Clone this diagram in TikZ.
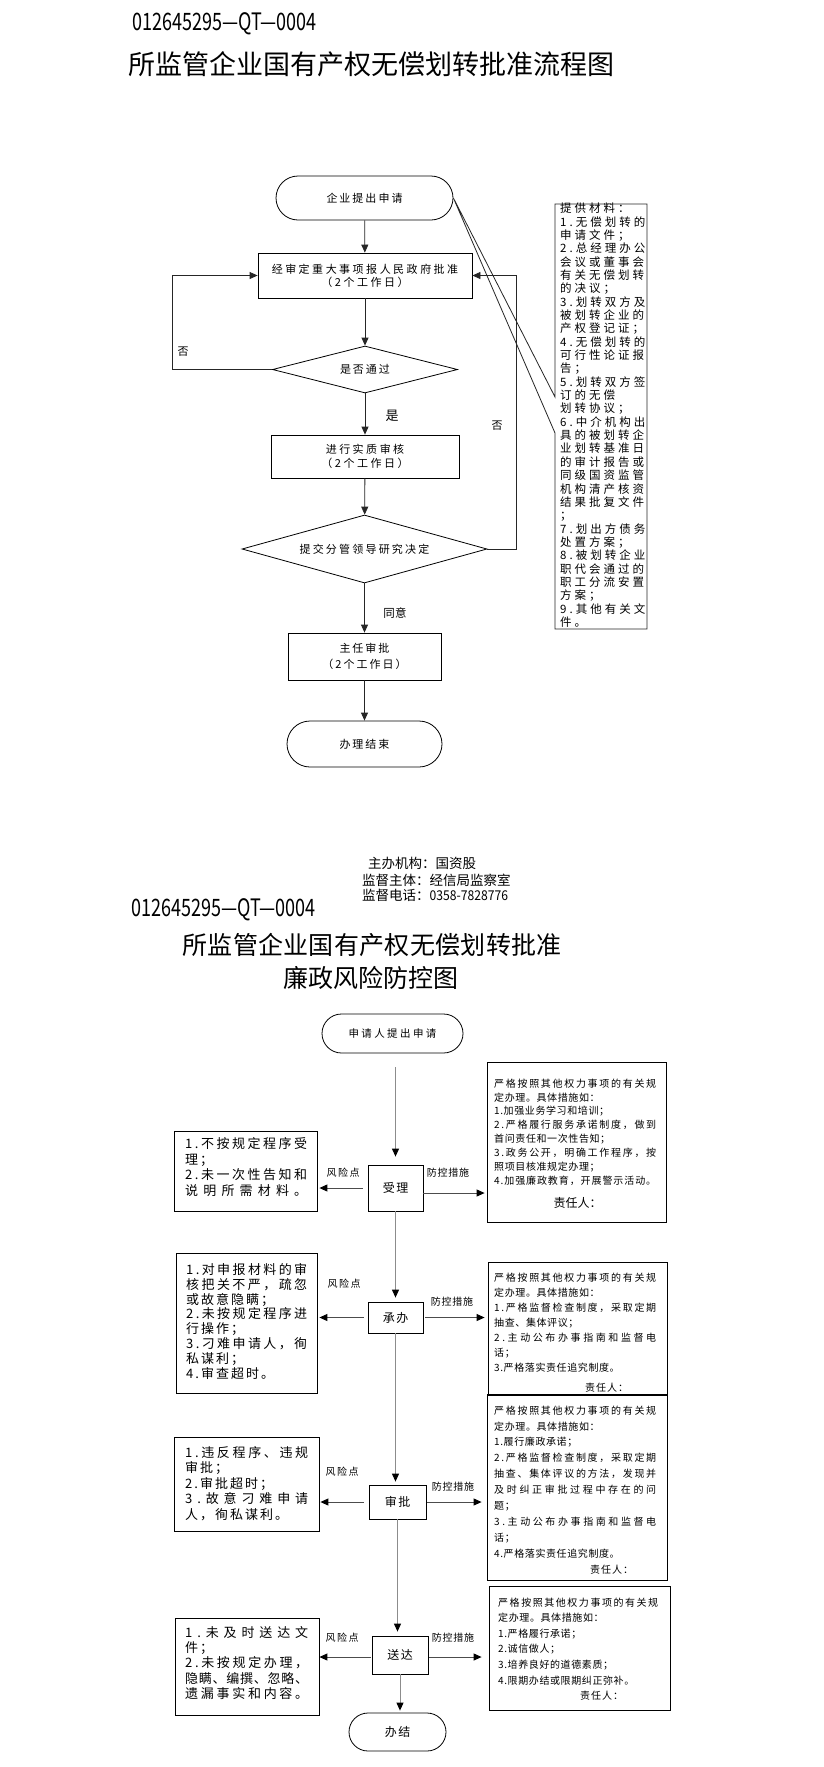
\documentclass[tikz,border=0pt]{standalone}
\usepackage{fontspec}
\setmainfont{Noto Sans CJK SC}
\usetikzlibrary{arrows.meta,shapes.geometric,shapes.misc}
\makeatletter
\def\lsp#1#2{\def\lsp@g{#1}\lsp@a#2\lsp@end}
\def\lsp@a#1{\ifx#1\lsp@end\else#1\expandafter\lsp@b\fi}
\def\lsp@b#1{\ifx#1\lsp@end\else\lsp@g#1\expandafter\lsp@b\fi}
\def\lsp@end{\lsp@end}
\makeatother
\newcommand\kls[2]{\lsp{\kern#1}{#2}}
\newcommand\jl[2]{\hbox to #1{\lsp{\hfil}{#2}}}
\newcommand\fsz[2]{\fontsize{#1}{#2}\selectfont}
\newcommand\mb[1]{\kls{3pt}{#1}}
\newcommand\ms[1]{\kls{0.6pt}{#1}}
\newcommand\lb[1]{\kls{2pt}{#1}}
\begin{document}
\begin{tikzpicture}[x=1pt,y=-1pt,
  bx/.style={draw=black, line width=0.8pt, inner sep=0pt},
  tm/.style={draw=black, rounded rectangle, line width=0.8pt, inner sep=0pt},
  dm/.style={draw=black, diamond, aspect=3.6, inner sep=0pt, line width=0.8pt},
  ar/.style={draw=black!85, line width=0.8pt, -{Triangle[length=8pt,width=7pt]}},
  ln/.style={draw=black!85, line width=0.8pt},
  varr/.style={draw=black!45, line width=1pt, -{Triangle[length=8pt,width=7pt,color=black]}},
  harr/.style={draw=black!70, line width=1pt, -{Triangle[length=8pt,width=7pt,color=black]}},
  tx/.style={inner sep=0pt, anchor=north west, align=left},
  lbl/.style={inner sep=0pt},
]
\fill[white] (0,0) rectangle (823,1767);
\useasboundingbox (0,0) rectangle (823,1767);

% ---------- header 1 ----------
\node[lbl, anchor=west, font=\fsz{24}{24}] (code1) at (132,23.5) {\scalebox{0.75}[1]{012645295—QT—0004}};
\node[lbl, font=\fsz{27}{27}] (title1) at (371.5,64) {所监管企业国有产权无偿划转批准流程图};

% ---------- top flowchart ----------
\node[tm, minimum width=177pt, minimum height=44pt, font=\fsz{11}{11}] (t1) at (364.5,198) {\kls{2pt}{企业提出申请}};
\node[bx, minimum width=214pt, minimum height=45pt, align=center, font=\fsz{11}{13}] (b1) at (365,275.5) {\kls{2.5pt}{经审定重大事项报人民政府批准}\\\kls{2.5pt}{（2个工作日）}};
\node[dm, minimum width=185pt, minimum height=47pt, font=\fsz{11}{11}] (d1) at (365,369.5) {\kls{2pt}{是否通过}};
\node[bx, minimum width=188pt, minimum height=43pt, align=center, font=\fsz{11}{14}] (b2) at (365,456.5) {\kls{2.5pt}{进行实质审核}\\\kls{2.5pt}{（2个工作日）}};
\node[dm, minimum width=245pt, minimum height=68pt, font=\fsz{11}{11}] (d2) at (364.5,549) {\kls{2.2pt}{提交分管领导研究决定}};
\node[bx, minimum width=153pt, minimum height=47pt, align=center, font=\fsz{11}{16}] (b3) at (364.5,656.5) {\kls{2pt}{主任审批}\\\kls{2pt}{（2个工作日）}};
\node[tm, minimum width=155pt, minimum height=46pt, font=\fsz{11}{11}] (t2) at (364.5,744) {\kls{2pt}{办理结束}};

\draw[ar] (t1) -- (b1);
\draw[ar] (b1) -- (d1);
\draw[ar] (d1) -- (b2);
\draw[ar] (b2) -- (d2);
\draw[ar] (d2) -- (b3);
\draw[ar] (b3) -- (t2);
\draw[ar] (d1.west) -| ([xshift=-85pt]b1.west) -- (b1.west);
\draw[ar] (d2.east) -| ([xshift=44pt]b1.east) -- (b1.east);

\node[lbl, font=\fsz{11}{11}] (no1) at (183,352) {否};
\node[lbl, font=\fsz{13}{13}] (yes1) at (392,416) {是};
\node[lbl, font=\fsz{11}{11}] (no2) at (497,426) {否};
\node[lbl, font=\fsz{11.5}{12}] (agree) at (395,613) {\kls{0.5pt}{同意}};

% materials callout
\draw[ln] (t1.east) -- (555,397) -- (555,204) -- (647,204) -- (647,629) -- (555,629) -- (555,433) -- cycle;
\node[tx, font=\fsz{11.5}{13.35}] (mat) at (560,202.8) {%
\mb{提供材料：}\\
\mb{1.无偿划转的}\\
\mb{申请文件；}\\
\mb{2.总经理办公}\\
\mb{会议或董事会}\\
\mb{有关无偿划转}\\
\mb{的决议；}\\
\mb{3.划转双方及}\\
\mb{被划转企业的}\\
\mb{产权登记证；}\\
\mb{4.无偿划转的}\\
\mb{可行性论证报}\\
\mb{告；}\\
\mb{5.划转双方签}\\
\mb{订的无偿}\\
\mb{划转协议；}\\
\mb{6.中介机构出}\\
\mb{具的被划转企}\\
\mb{业划转基准日}\\
\mb{的审计报告或}\\
\mb{同级国资监管}\\
\mb{机构清产核资}\\
\mb{结果批复文件}\\
\mb{；}\\
\mb{7.划出方债务}\\
\mb{处置方案；}\\
\mb{8.被划转企业}\\
\mb{职代会通过的}\\
\mb{职工分流安置}\\
\mb{方案；}\\
\mb{9.其他有关文}\\
\mb{件。}};

% ---------- header 2 ----------
\node[lbl, anchor=west, font=\fsz{13.5}{14}] (org1) at (368,863) {主办机构：国资股};
\node[lbl, anchor=west, font=\fsz{13.5}{14}] (org2) at (362,880) {监督主体：经信局监察室};
\node[lbl, anchor=west, font=\fsz{13.5}{14}] (org3) at (362,895) {监督电话：\scalebox{0.9}[1]{0358-7828776}};
\node[lbl, anchor=west, font=\fsz{24}{24}] (code2) at (131,910) {\scalebox{0.75}[1]{012645295—QT—0004}};
\node[lbl, font=\fsz{25}{25}] (title2a) at (372,944.5) {\kls{0.3pt}{所监管企业国有产权无偿划转批准}};
\node[lbl, font=\fsz{25}{25}] (title2b) at (370.5,978) {廉政风险防控图};

% ---------- bottom flowchart ----------
\node[tm, minimum width=141pt, minimum height=39pt, font=\fsz{10.5}{11}] (s0) at (392.5,1033.5) {\kls{2.4pt}{申请人提出申请}};
\node[bx, minimum width=55pt, minimum height=46pt, font=\fsz{12}{12}] (n1) at (395.5,1188) {\kls{1.5pt}{受理}};
\node[bx, minimum width=55pt, minimum height=31pt, font=\fsz{12}{12}] (n2) at (395.5,1317.5) {\kls{1.5pt}{承办}};
\node[bx, minimum width=57pt, minimum height=34pt, font=\fsz{12}{12}] (n3) at (397.5,1502) {\kls{1.5pt}{审批}};
\node[bx, minimum width=56pt, minimum height=38pt, font=\fsz{12}{12}] (n4) at (400,1655) {\kls{1.5pt}{送达}};
\node[tm, minimum width=97pt, minimum height=38pt, font=\fsz{12}{12}] (s1) at (397.5,1732) {\kls{1.5pt}{办结}};

% risk boxes
\node[bx, minimum width=143pt, minimum height=80pt] (r1) at (245.5,1171) {};
\node[bx, minimum width=141pt, minimum height=140pt] (r2) at (246.5,1323) {};
\node[bx, minimum width=145pt, minimum height=94pt] (r3) at (246.5,1484) {};
\node[bx, minimum width=144pt, minimum height=97pt] (r4) at (247,1666.5) {};
% measure boxes
\node[bx, minimum width=179pt, minimum height=160pt] (m1) at (576.5,1142) {};
\node[bx, minimum width=179pt, minimum height=133pt] (m2) at (577.5,1328.5) {};
\node[bx, minimum width=180pt, minimum height=186pt] (m3) at (577,1487) {};
\node[bx, minimum width=181pt, minimum height=124pt] (m4) at (579.5,1648) {};

% risk texts
\node[tx, font=\fsz{13}{15.7}] (rt1) at (185,1137.2) {%
\jl{122pt}{1.不按规定程序受}\\
\lb{理；}\\
\jl{122pt}{2.未一次性告知和}\\
\jl{122pt}{说明所需材料。}};
\node[tx, font=\fsz{13}{14.8}] (rt2) at (186,1263.2) {%
\jl{121pt}{1.对申报材料的审}\\
\jl{121pt}{核把关不严，疏忽}\\
\lb{或故意隐瞒；}\\
\jl{121pt}{2.未按规定程序进}\\
\lb{行操作；}\\
\jl{121pt}{3.刁难申请人，徇}\\
\lb{私谋利；}\\
\lb{4.审查超时。}};
\node[tx, font=\fsz{13}{15.5}] (rt3) at (185,1446.2) {%
\jl{123pt}{1.违反程序、违规}\\
\lb{审批；}\\
\lb{2.审批超时；}\\
\jl{123pt}{3.故意刁难申请}\\
\lb{人，徇私谋利。}};
\node[tx, font=\fsz{13}{15.25}] (rt4) at (185,1626.2) {%
\jl{123pt}{1.未及时送达文}\\
\lb{件；}\\
\jl{123pt}{2.未按规定办理，}\\
\jl{123pt}{隐瞒、编撰、忽略、}\\
\jl{123pt}{遗漏事实和内容。}};

% measure texts
\node[tx, font=\fsz{10}{13.9}] (mt1) at (494,1078.5) {%
\jl{162pt}{严格按照其他权力事项的有关规}\\
\ms{定办理。具体措施如：}\\
\ms{1.加强业务学习和培训；}\\
\jl{162pt}{2.严格履行服务承诺制度，做到}\\
\ms{首问责任和一次性告知；}\\
\jl{162pt}{3.政务公开，明确工作程序，按}\\
\ms{照项目核准规定办理；}\\
\jl{162pt}{4.加强廉政教育，开展警示活动。}};
\node[tx, font=\fsz{10}{15}] (mt2) at (494,1272.5) {%
\jl{162pt}{严格按照其他权力事项的有关规}\\
\ms{定办理。具体措施如：}\\
\jl{162pt}{1.严格监督检查制度，采取定期}\\
\ms{抽查、集体评议；}\\
\jl{162pt}{2.主动公布办事指南和监督电}\\
\ms{话；}\\
\ms{3.严格落实责任追究制度。}};
\node[tx, font=\fsz{10}{15.9}] (mt3) at (494,1405.5) {%
\jl{162pt}{严格按照其他权力事项的有关规}\\
\ms{定办理。具体措施如：}\\
\ms{1.履行廉政承诺；}\\
\jl{162pt}{2.严格监督检查制度，采取定期}\\
\jl{162pt}{抽查、集体评议的方法，发现并}\\
\jl{162pt}{及时纠正审批过程中存在的问}\\
\ms{题；}\\
\jl{162pt}{3.主动公布办事指南和监督电}\\
\ms{话；}\\
\ms{4.严格落实责任追究制度。}};
\node[tx, font=\fsz{10}{15.6}] (mt4) at (498,1597.5) {%
\jl{160pt}{严格按照其他权力事项的有关规}\\
\ms{定办理。具体措施如：}\\
\ms{1.严格履行承诺；}\\
\ms{2.诚信做人；}\\
\ms{3.培养良好的道德素质；}\\
\ms{4.限期办结或限期纠正弥补。}};
\node[lbl, font=\fsz{12}{12}] (resp1) at (577.5,1203) {责任人：};
\node[lbl, font=\fsz{10}{10}] (resp2) at (606.5,1388) {\kls{1pt}{责任人：}};
\node[lbl, font=\fsz{10}{10}] (resp3) at (611.5,1570) {\kls{1pt}{责任人：}};
\node[lbl, font=\fsz{10}{10}] (resp4) at (601.5,1696) {\kls{1pt}{责任人：}};

% labels
\node[lbl, font=\fsz{10}{10}] (rl1) at (343,1173) {\kls{1.5pt}{风险点}};
\node[lbl, font=\fsz{10}{10}] (rl2) at (344,1284) {\kls{1.5pt}{风险点}};
\node[lbl, font=\fsz{10}{10}] (rl3) at (342,1472) {\kls{1.5pt}{风险点}};
\node[lbl, font=\fsz{10}{10}] (rl4) at (342,1638) {\kls{1.5pt}{风险点}};
\node[lbl, font=\fsz{10}{10}] (cl1) at (448,1173) {\kls{0.8pt}{防控措施}};
\node[lbl, font=\fsz{10}{10}] (cl2) at (452,1302) {\kls{0.8pt}{防控措施}};
\node[lbl, font=\fsz{10}{10}] (cl3) at (453,1487) {\kls{0.8pt}{防控措施}};
\node[lbl, font=\fsz{10}{10}] (cl4) at (453,1638) {\kls{0.8pt}{防控措施}};

% vertical connectors
\draw[varr, shorten <=14pt, shorten >=8pt] (n1.north |- s0.south) -- (n1.north);
\draw[varr, shorten >=4pt] (n1.south) -- (n1.south |- n2.north);
\draw[varr, shorten >=3pt] (n2.south) -- (n2.south |- n3.north);
\draw[varr, shorten >=4pt] (n3.south) -- (n3.south |- n4.north);
\draw[varr, shorten >=2pt] (n4.south) -- (n4.south |- s1.north);

% horizontal connectors
\draw[harr, shorten <=5pt, shorten >=2pt] (n1.west) -- (n1.west -| r1.east);
\draw[harr, shorten >=2pt] ([yshift=-5pt]n1.east) -- ([yshift=-5pt]n1.east -| m1.west);
\draw[harr, shorten <=4pt, shorten >=2pt] (n2.west) -- (n2.west -| r2.east);
\draw[harr, shorten <=2pt, shorten >=3pt] (n2.east) -- (n2.east -| m2.west);
\draw[harr, shorten <=5pt, shorten >=1pt] (n3.west) -- (n3.west -| r3.east);
\draw[harr, shorten <=1pt, shorten >=5pt] (n3.east) -- (n3.east -| m3.west);
\draw[harr, shorten <=1pt] ([yshift=-2pt]n4.west) -- ([yshift=-2pt]n4.west -| r4.east);
\draw[harr, shorten <=1pt, shorten >=7pt] ([yshift=-2pt]n4.east) -- ([yshift=-2pt]n4.east -| m4.west);
\end{tikzpicture}
\end{document}
